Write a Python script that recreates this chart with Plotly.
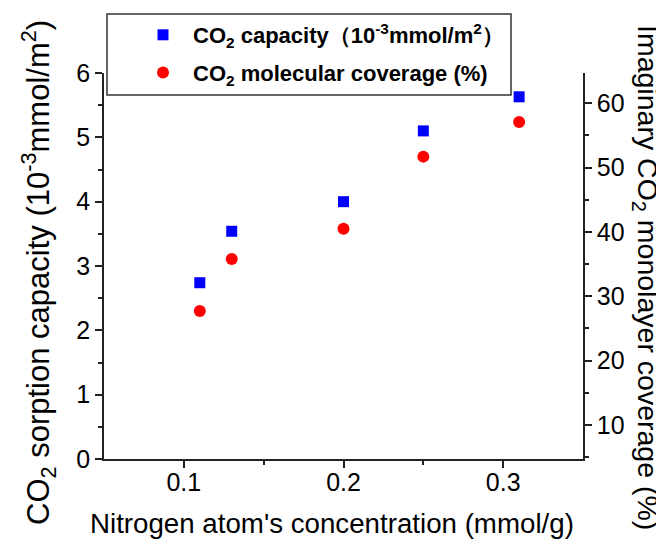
import plotly.graph_objects as go

# ---- data ----
nitrogen_conc = [0.11, 0.13, 0.20, 0.25, 0.31]          # mmol/g
co2_capacity = [2.74, 3.54, 4.00, 5.10, 5.63]           # 10^-3 mmol/m^2
co2_coverage = [27.7, 35.8, 40.5, 51.7, 57.1]           # %

x_ticks = [0.1, 0.2, 0.3]
x_minor = [0.15, 0.25]

FONT = "Arial, Liberation Sans, sans-serif"
AX = "#222222"

OFF = 8  # page body margin
W, H = 664 - OFF, 546 - OFF
L, R, T, B = 104 - OFF, 81, 73 - OFF, 87
PW, PH = W - L - R, H - T - B


def px_x(p):  # page pixel -> paper
    return (p - OFF - L) / PW


def px_y(p):
    return (H - B + OFF - p) / PH


fig = go.Figure()
fig.add_trace(go.Scatter(
    x=nitrogen_conc, y=co2_capacity, mode="markers",
    name="CO<sub>2</sub> capacity（10<sup>-3</sup>mmol/m<sup>2</sup>）",
    marker=dict(symbol="square", size=11, color="#0000ff"),
    legendgroup="a", yaxis="y",
))
fig.add_trace(go.Scatter(
    x=nitrogen_conc, y=co2_coverage, mode="markers",
    name="CO<sub>2</sub> molecular coverage (%)",
    marker=dict(symbol="circle", size=12, color="#ff0000"),
    legendgroup="b", yaxis="y2",
))

axis_common = dict(
    showline=True, linecolor=AX, linewidth=1.5,
    ticks="outside", ticklen=7, tickwidth=1.5, tickcolor=AX,
    showgrid=False, zeroline=False,
    tickfont=dict(family=FONT, size=25, color="black"),
)

fig.update_layout(
    width=W, height=H,
    margin=dict(l=L, r=R, t=T, b=B, pad=0, autoexpand=False),
    paper_bgcolor="white", plot_bgcolor="white",
    font=dict(family=FONT, color="black"),
    xaxis=dict(
        range=[0.05, 0.35], tickvals=x_ticks, ticktext=[str(v) for v in x_ticks],
        minor=dict(tickvals=x_minor, ticks="outside", ticklen=4, tickwidth=1.5, tickcolor=AX),
        ticklabelstandoff=-7, automargin=False,
        **axis_common,
    ),
    yaxis=dict(
        range=[0, 6], tick0=0, dtick=1, automargin=False,
        minor=dict(dtick=0.5, ticks="outside", ticklen=4, tickwidth=1.5, tickcolor=AX),
        **axis_common,
    ),
    yaxis2=dict(
        range=[4.7, 64.7], tick0=0, dtick=10, overlaying="y", side="right", anchor="x",
        automargin=False,
        minor=dict(dtick=5, ticks="outside", ticklen=4, tickwidth=1.5, tickcolor=AX),
        **axis_common,
    ),
    showlegend=True,
    legend=dict(
        x=px_x(133), y=px_y(14), xanchor="left", yanchor="top",
        bgcolor="rgba(0,0,0,0)", borderwidth=0,
        font=dict(family=FONT, size=22, color="black", weight="bold"),
        tracegroupgap=6, itemwidth=50,
    ),
    shapes=[dict(
        type="rect", xref="paper", yref="paper",
        x0=px_x(107), x1=px_x(511), y0=px_y(95), y1=px_y(14),
        line=dict(color="#333333", width=1.5), fillcolor="white", layer="above",
    )],
    annotations=[
        dict(text="Nitrogen atom's concentration (mmol/g)", xref="paper", yref="paper",
             x=px_x(332), y=px_y(523), xanchor="center", yanchor="middle",
             showarrow=False, font=dict(family=FONT, size=27.7, color="black")),
        dict(text="CO<sub>2</sub> sorption capacity (10<sup>-3</sup>mmol/m<sup>2</sup>)",
             xref="paper", yref="paper", x=px_x(38), y=px_y(273), textangle=-90,
             xanchor="center", yanchor="middle",
             showarrow=False, font=dict(family=FONT, size=31, color="black")),
        dict(text="Imaginary CO<sub>2</sub> monolayer coverage (%)",
             xref="paper", yref="paper", x=px_x(646), y=px_y(277), textangle=90,
             xanchor="center", yanchor="middle",
             showarrow=False, font=dict(family=FONT, size=28.5, color="black")),
    ],
)

fig.write_html("out.html")
